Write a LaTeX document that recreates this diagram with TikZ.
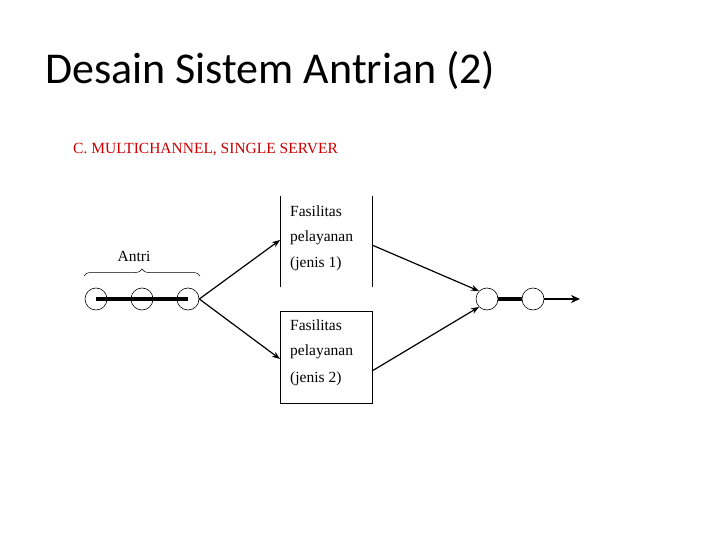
\documentclass[tikz,border=0pt]{standalone}
\usepackage{fontspec}
\setmainfont{Liberation Serif}
\newfontfamily\titlefont{Carlito}
\usetikzlibrary{decorations.pathreplacing,arrows.meta}
\begin{document}
\begin{tikzpicture}[x=1pt,y=-1pt,
  circ/.style={circle,draw,line width=0.6pt,minimum size=22pt,inner sep=0pt},
  arr/.style={line width=1.2pt,-{Stealth[length=8pt,width=6pt]}},
  bar/.style={line width=3.5pt},
  txt/.style={font=\fontsize{15.5}{17}\selectfont,inner sep=0pt},
  boxtxt/.style={txt,anchor=west}]
\useasboundingbox (0,0) rectangle (720,540);
\node[anchor=base west,inner sep=0pt,font=\titlefont\fontsize{44}{48}\selectfont] (title) at (45,84) {Desain Sistem Antrian (2)};
\node[anchor=base west,txt,text=red!80!black] (sub) at (73,154) {C. MULTICHANNEL, SINGLE SERVER};
% left queue
\node[circ] (q1) at (96,299) {};
\node[circ] (q2) at (142,299) {};
\node[circ] (q3) at (188,299) {};
\draw[bar] (q1.center) -- (q3.center);
\draw[decorate,decoration={brace,amplitude=7pt},line width=0.5pt] (84,276) -- (200,276);
\node[txt] (antri) at (134,256) {Antri};
% box 1 (sides only)
\draw[line width=0.7pt] (280,196) -- (280,287) (372,196) -- (372,287);
\node[boxtxt] (f1) at (290,211) {Fasilitas};
\node[boxtxt] (p1) at (290,238) {pelayanan};
\node[boxtxt] (j1) at (290,264) {(jenis 1)};
% box 2
\node[draw,line width=0.7pt,minimum width=92pt,minimum height=92pt,inner sep=0pt] (b2) at (326,357) {};
\node[boxtxt] (f2) at (290,325) {Fasilitas};
\node[boxtxt] (p2) at (290,352) {pelayanan};
\node[boxtxt] (j2) at (290,379) {(jenis 2)};
% right
\node[circ] (r1) at (487,299) {};
\node[circ] (r2) at (533,299) {};
\draw[bar] (r1) -- (r2);
\coordinate (end) at (580,299);
\draw[line width=2.5pt,-{Stealth[length=9pt,width=8pt]}] (r2) -- (end);
% connectors
\coordinate (in1) at (280,240);
\coordinate (in2) at (280,359);
\coordinate (out1) at (372,245);
\coordinate (out2) at (372,371);
\draw[arr] (q3.east) -- (in1);
\draw[arr] (q3.east) -- (in2);
\draw[arr] (out1) -- (r1.north west);
\draw[arr] (out2) -- (r1.south west);
\end{tikzpicture}
\end{document}
